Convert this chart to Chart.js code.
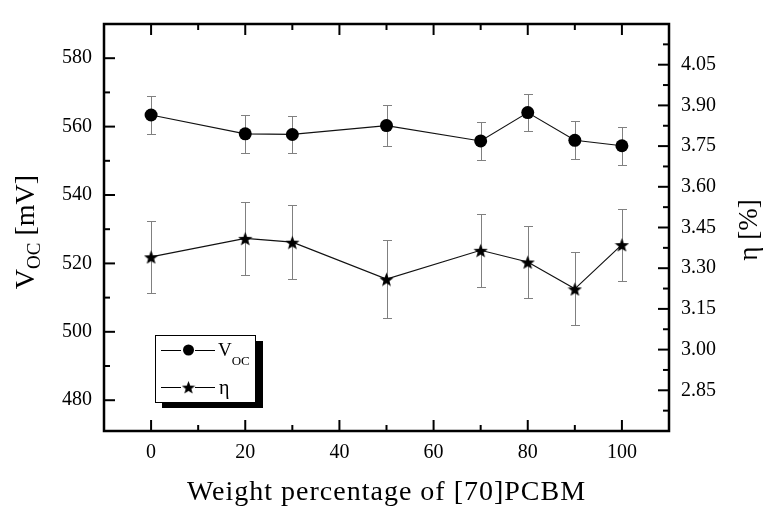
<!DOCTYPE html>
<html>
<head>
<meta charset="utf-8">
<script src="https://cdn.jsdelivr.net/npm/chart.js@4.4.1/dist/chart.umd.min.js"></script>
<style>
  body { margin: 0; background: #fff; }
  canvas { display: block; }
</style>
</head>
<body>
<canvas id="myChart" width="763" height="508"></canvas>
<script>
const weights = [0, 20, 30, 50, 70, 80, 90, 100];
const vocValues = [563.4, 557.9, 557.7, 560.3, 555.8, 564.1, 556.0, 554.4];
const vocErrors = [5.5, 5.5, 5.5, 6.0, 5.5, 5.5, 5.5, 5.5];
const etaValues = [3.342, 3.410, 3.396, 3.260, 3.366, 3.323, 3.224, 3.387];
const etaErrors = [0.133, 0.134, 0.137, 0.143, 0.134, 0.131, 0.135, 0.133];

const weightTicks = [0, 20, 40, 60, 80, 100];
const vocTicks = [480, 500, 520, 540, 560, 580];
const etaTicks = [2.85, 3.00, 3.15, 3.30, 3.45, 3.60, 3.75, 3.90, 4.05];

const serif = "'Liberation Serif', 'Times New Roman', serif";

// filled five pointed star used as marker
function makeStar(size) {
    let c = document.createElement("canvas");
    c.width = size;
    c.height = size;
    let g = c.getContext("2d");
    let r = size / 2;
    let ri = r * 0.42;
    g.beginPath();
    for (let i = 0; i < 10; i++) {
        let ang = -Math.PI / 2 + i * Math.PI / 5;
        let rr = i % 2 ? ri : r;
        g.lineTo(r + rr * Math.cos(ang), r + 1 + rr * Math.sin(ang));
    }
    g.closePath();
    g.fillStyle = "#000";
    g.fill();
    return c;
}
const star = makeStar(15);

function toPoints(xs, ys) {
    return xs.map((x, i) => ({ x: x, y: ys[i] }));
}

// midpoints between majors -> minor ticks
function minorsOf(major) {
    let step = major[1] - major[0];
    let out = [];
    for (let i = 0; i < major.length; i++) {
        out.push(major[i] - step / 2);
    }
    out.push(major[major.length - 1] + step / 2);
    return out;
}

const errorBars = {
    id: "errorBars",
    beforeDatasetsDraw(chart) {
        let ctx = chart.ctx;
        chart.data.datasets.forEach((ds, i) => {
            let meta = chart.getDatasetMeta(i);
            let ys = chart.scales[ds.yAxisID];
            ctx.save();
            ctx.strokeStyle = "#808080";
            ctx.lineWidth = 1;
            meta.data.forEach((pt, j) => {
                let v = ds.data[j].y;
                let e = ds.errors[j];
                let x = Math.round(pt.x) + 0.5;
                let top = Math.round(ys.getPixelForValue(v + e)) + 0.5;
                let bot = Math.round(ys.getPixelForValue(v - e)) + 0.5;
                ctx.beginPath();
                ctx.moveTo(x, top);
                ctx.lineTo(x, bot);
                ctx.moveTo(x - 4.5, top);
                ctx.lineTo(x + 4.5, top);
                ctx.moveTo(x - 4.5, bot);
                ctx.lineTo(x + 4.5, bot);
                ctx.stroke();
            });
            ctx.restore();
        });
    }
};

const frame = {
    id: "frame",
    afterDraw(chart) {
        let ctx = chart.ctx;
        let a = chart.chartArea;
        let sx = chart.scales.x;
        let sl = chart.scales.yV;
        let sr = chart.scales.yEta;
        ctx.save();
        ctx.strokeStyle = "#000";
        ctx.lineWidth = 2;

        function tick(x1, y1, x2, y2) {
            ctx.beginPath();
            ctx.moveTo(x1, y1);
            ctx.lineTo(x2, y2);
            ctx.stroke();
        }
        let inside = (v, s) => v > s.min + 1e-6 && v < s.max - 1e-6;

        weightTicks.forEach(v => {
            let x = sx.getPixelForValue(v);
            tick(x, a.bottom, x, a.bottom - 11);
            tick(x, a.top, x, a.top + 11);
        });
        minorsOf(weightTicks).filter(v => inside(v, sx)).forEach(v => {
            let x = sx.getPixelForValue(v);
            tick(x, a.bottom, x, a.bottom - 6);
            tick(x, a.top, x, a.top + 6);
        });
        vocTicks.forEach(v => {
            let y = sl.getPixelForValue(v);
            tick(a.left, y, a.left + 11, y);
        });
        minorsOf(vocTicks).filter(v => inside(v, sl)).forEach(v => {
            let y = sl.getPixelForValue(v);
            tick(a.left, y, a.left + 6, y);
        });
        etaTicks.forEach(v => {
            let y = sr.getPixelForValue(v);
            tick(a.right, y, a.right - 11, y);
        });
        minorsOf(etaTicks).filter(v => inside(v, sr)).forEach(v => {
            let y = sr.getPixelForValue(v);
            tick(a.right, y, a.right - 6, y);
        });

        ctx.lineWidth = 2.5;
        ctx.strokeRect(a.left, a.top, a.right - a.left, a.bottom - a.top);

        // axis titles
        ctx.fillStyle = "#000";
        ctx.textBaseline = "alphabetic";
        ctx.textAlign = "left";

        ctx.font = "28px " + serif;
        ctx.letterSpacing = "1px";
        let xt = "Weight percentage of [70]PCBM";
        let xw = ctx.measureText(xt).width;
        ctx.fillText(xt, (a.left + a.right) / 2 - xw / 2, 500);
        ctx.letterSpacing = "0px";

        // left: V_OC [mV]
        ctx.save();
        ctx.translate(34, 232);
        ctx.rotate(-Math.PI / 2);
        ctx.font = "28px " + serif;
        let wV = ctx.measureText("V").width;
        let wRest = ctx.measureText(" [mV]").width;
        ctx.font = "19px " + serif;
        let wOC = ctx.measureText("OC").width;
        let x0 = -(wV + wOC + wRest) / 2;
        ctx.font = "28px " + serif;
        ctx.fillText("V", x0, 0);
        ctx.fillText(" [mV]", x0 + wV + wOC, 0);
        ctx.font = "19px " + serif;
        ctx.fillText("OC", x0 + wV, 6);
        ctx.restore();

        // right: η [%]
        ctx.save();
        ctx.translate(757, 230);
        ctx.rotate(-Math.PI / 2);
        ctx.font = "27px " + serif;
        let rt = "\u03b7 [%]";
        ctx.fillText(rt, -ctx.measureText(rt).width / 2, 0);
        ctx.restore();

        // legend box with drop shadow
        let lx = a.left + 51;
        let ly = a.top + 311;
        ctx.fillStyle = "#000";
        ctx.fillRect(lx + 7, ly + 6, 101, 67);
        ctx.fillStyle = "#fff";
        ctx.fillRect(lx, ly, 101, 68);
        ctx.lineWidth = 1;
        ctx.strokeStyle = "#000";
        ctx.strokeRect(lx + 0.5, ly + 0.5, 100, 67);

        let rows = [ly + 15, ly + 52];
        rows.forEach(y => {
            tick(lx + 6, y + 0.5, lx + 26, y + 0.5);
            tick(lx + 40, y + 0.5, lx + 60, y + 0.5);
        });
        ctx.fillStyle = "#000";
        ctx.beginPath();
        ctx.arc(lx + 33.5, rows[0], 5.5, 0, Math.PI * 2);
        ctx.fill();
        ctx.drawImage(star, lx + 33.5 - 7, rows[1] - 7, 14, 14);

        ctx.font = "19px " + serif;
        ctx.fillText("V", lx + 63, rows[0] + 6);
        let lv = ctx.measureText("V").width;
        ctx.font = "13px " + serif;
        ctx.fillText("OC", lx + 63 + lv, rows[0] + 15);
        ctx.font = "20px " + serif;
        ctx.fillText("\u03b7", lx + 64, rows[1] + 7);
        ctx.restore();
    }
};

let myChart = new Chart("myChart", {
    type: "scatter",
    data: {
        datasets: [{
            label: "VOC",
            data: toPoints(weights, vocValues),
            errors: vocErrors,
            yAxisID: "yV",
            showLine: true,
            borderColor: "#111",
            borderWidth: 1.2,
            backgroundColor: "#000",
            pointRadius: 6.5,
            pointBorderWidth: 0,
            pointStyle: "circle"
        }, {
            label: "eta",
            data: toPoints(weights, etaValues),
            errors: etaErrors,
            yAxisID: "yEta",
            showLine: true,
            borderColor: "#111",
            borderWidth: 1.2,
            backgroundColor: "#000",
            pointRadius: 8,
            pointStyle: star
        }]
    },
    options: {
        responsive: false,
        animation: false,
        layout: { padding: { top: 17, left: 0, right: 0, bottom: 0 } },
        plugins: { legend: { display: false }, tooltip: { enabled: false } },
        scales: {
            x: {
                type: "linear",
                position: "bottom",
                min: -10,
                max: 110,
                grid: { display: false, drawTicks: false },
                border: { display: false },
                afterBuildTicks: s => { s.ticks = weightTicks.map(v => ({ value: v })); },
                afterFit: s => { s.height = 77; },
                ticks: {
                    padding: 10,
                    color: "#000",
                    font: { family: serif, size: 20 },
                    callback: v => v
                }
            },
            yV: {
                type: "linear",
                position: "left",
                min: 471,
                max: 590,
                grid: { display: false, drawTicks: false },
                border: { display: false },
                afterBuildTicks: s => { s.ticks = vocTicks.map(v => ({ value: v })); },
                afterFit: s => { s.width = 104; },
                ticks: {
                    padding: 12,
                    color: "#000",
                    font: { family: serif, size: 20 },
                    callback: v => v
                }
            },
            yEta: {
                type: "linear",
                position: "right",
                min: 2.7,
                max: 4.2,
                grid: { display: false, drawTicks: false },
                border: { display: false },
                afterBuildTicks: s => { s.ticks = etaTicks.map(v => ({ value: v })); },
                afterFit: s => { s.width = 94; },
                ticks: {
                    padding: 12,
                    color: "#000",
                    font: { family: serif, size: 20 },
                    callback: v => v.toFixed(2)
                }
            }
        }
    },
    plugins: [errorBars, frame]
});
</script>
</body>
</html>
